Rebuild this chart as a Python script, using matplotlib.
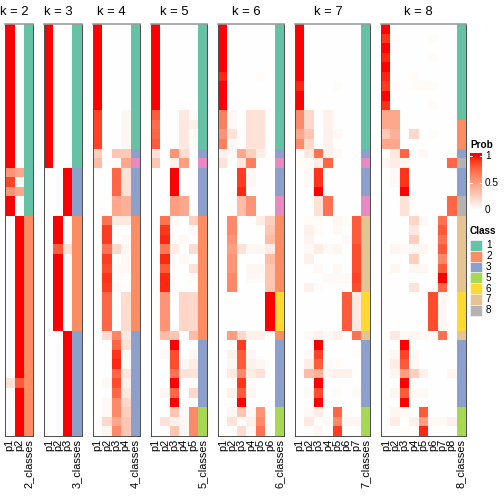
import numpy as np
import matplotlib
matplotlib.use("Agg")
import matplotlib.pyplot as plt
from matplotlib.colors import ListedColormap, to_rgb
from matplotlib.patches import Rectangle

plt.rcParams['font.family'] = ['Liberation Sans', 'DejaVu Sans']

# membership probabilities, one row per sample (43 samples), one column per class
prob_k2 = ([[1, 0]] * 15 + [[0.55, 0.45], [0.88, 0.05], [0.55, 0.45]] + [[1, 0]] * 2
           + [[0, 1]] * 17 + [[0.15, 0.8]] + [[0, 1]] * 5)
class_k2 = [1] * 20 + [2] * 23

prob_k3 = ([[1, 0, 0]] * 15 + [[0, 0, 1]] * 5 + [[0, 1, 0]] * 3 + [[0, 0.8, 0.15]]
           + [[0, 1, 0]] * 8 + [[0, 0, 1]] * 11)
class_k3 = [1] * 15 + [3] * 5 + [2] * 12 + [3] * 11

prob_k4 = ([[1, 0, 0, 0]] * 9 + [[0.88, 0, 0, 0.05]] * 4
           + [[0.25, 0, 0.3, 0.28], [0.35, 0, 0.02, 0.45]]
           + [[0, 0, 0.75, 0.15]] * 3 + [[0, 0, 0.45, 0.4]] * 2
           + [[0, 0.7, 0.12, 0.12], [0, 0.9, 0.02, 0], [0, 0.9, 0, 0.03], [0, 0.7, 0.2, 0.05],
              [0, 0.9, 0, 0.03], [0, 0.85, 0.03, 0.03], [0, 0.92, 0.02, 0], [0, 0.9, 0.03, 0]]
           + [[0, 0.75, 0, 0.18]] * 4
           + [[0, 0.18, 0.62, 0.12], [0, 0, 0.75, 0.15], [0, 0, 0.92, 0.02], [0, 0, 0.95, 0.02],
              [0, 0, 0.75, 0.12], [0, 0.03, 0.85, 0.08], [0, 0, 0.75, 0.12], [0, 0.03, 0.6, 0.2],
              [0, 0.03, 0.6, 0.25], [0, 0.2, 0.45, 0.3], [0, 0.05, 0.6, 0.3]])
class_k4 = [1] * 13 + [3, 4] + [3] * 5 + [2] * 12 + [3] * 11

prob_k5 = ([[1, 0, 0, 0, 0]] * 9
           + [[0.8, 0, 0, 0.12, 0.02], [0.72, 0, 0, 0.12, 0.08], [0.75, 0, 0, 0.12, 0.03],
              [0.8, 0, 0, 0.12, 0.02], [0.15, 0, 0.55, 0.18, 0], [0.3, 0, 0.08, 0.5, 0]]
           + [[0, 0, 1, 0, 0]] * 3 + [[0, 0, 0.5, 0.45, 0]] * 2
           + [[0, 0.7, 0.03, 0, 0.25], [0, 0.92, 0, 0, 0.03], [0, 0.95, 0, 0.03, 0],
              [0, 0.68, 0.1, 0, 0.18], [0, 0.95, 0, 0.03, 0], [0, 0.8, 0, 0, 0.15],
              [0, 0.95, 0, 0, 0.02], [0, 0.95, 0, 0, 0]]
           + [[0, 0.55, 0, 0.22, 0.2]] * 4
           + [[0, 0.35, 0.3, 0, 0.35], [0, 0, 1, 0, 0], [0, 0.03, 0.85, 0, 0.05],
              [0, 0, 0.85, 0.05, 0.1], [0, 0, 0.7, 0.15, 0.15], [0, 0, 1, 0, 0],
              [0, 0.05, 0.75, 0, 0.2], [0, 0, 1, 0, 0], [0, 0, 0.3, 0.03, 0.6],
              [0, 0.15, 0.08, 0.05, 0.6], [0, 0, 0.3, 0.05, 0.6]])
class_k5 = [1] * 13 + [3, 4] + [3] * 5 + [2] * 13 + [3] * 7 + [5] * 3

prob_k6 = ([[1, 0, 0, 0, 0, 0]] * 5 + [[0.95, 0, 0, 0, 0.02, 0]] + [[1, 0, 0, 0, 0, 0]] * 3
           + [[0.65, 0.03, 0, 0.15, 0.15, 0]] * 2
           + [[0.55, 0.15, 0, 0.15, 0.15, 0], [0.65, 0.03, 0, 0.15, 0.15, 0],
              [0.08, 0.03, 0.45, 0.25, 0.1, 0], [0.15, 0, 0.12, 0.65, 0, 0]]
           + [[0, 0, 0.9, 0.05, 0, 0]] * 2 + [[0, 0, 0.95, 0.01, 0, 0]]
           + [[0, 0, 0.35, 0.55, 0, 0]] * 2
           + [[0, 0.6, 0, 0, 0.1, 0.25], [0, 0.6, 0, 0, 0, 0.3], [0, 0.55, 0, 0, 0, 0.35],
              [0, 0.5, 0.15, 0.05, 0.05, 0.1], [0, 0.55, 0, 0, 0, 0.35],
              [0, 0.55, 0, 0.05, 0.05, 0.3], [0, 0.6, 0, 0.03, 0.03, 0.3], [0, 0.6, 0, 0, 0, 0.3]]
           + [[0, 0, 0, 0, 0, 1]] * 4
           + [[0, 0.5, 0.2, 0.08, 0.08, 0], [0, 0, 0.9, 0, 0, 0], [0, 0.08, 0.8, 0.05, 0, 0],
              [0, 0.05, 0.8, 0.08, 0.05, 0], [0, 0.12, 0.6, 0.1, 0.15, 0], [0, 0, 0.92, 0.02, 0, 0],
              [0, 0.08, 0.8, 0.05, 0, 0], [0, 0, 1, 0, 0, 0], [0, 0.05, 0.3, 0.03, 0.55, 0],
              [0, 0.15, 0, 0.08, 0.6, 0], [0, 0, 0.18, 0.03, 0.7, 0]])
class_k6 = [1] * 13 + [3, 4] + [3] * 3 + [4] * 2 + [2] * 8 + [6] * 4 + [2] + [3] * 7 + [5] * 3

prob_k7 = ([[1, 0, 0, 0, 0, 0, 0]] * 6 + [[0.95, 0, 0, 0, 0.02, 0, 0]] + [[1, 0, 0, 0, 0, 0, 0]] * 2
           + [[0.6, 0.2, 0, 0.08, 0, 0, 0]] * 2
           + [[0.45, 0.3, 0, 0.08, 0.03, 0, 0], [0.6, 0.2, 0, 0.08, 0, 0, 0],
              [0.02, 0.12, 0.7, 0.08, 0.03, 0, 0], [0.02, 0.02, 0.1, 0.75, 0, 0, 0]]
           + [[0, 0.03, 0.92, 0, 0, 0, 0]] * 2 + [[0, 0, 1, 0, 0, 0, 0]]
           + [[0, 0, 0.15, 0.7, 0, 0, 0]] * 2
           + [[0, 0.02, 0.02, 0, 0.05, 0.02, 0.8], [0, 0.08, 0.02, 0, 0.03, 0, 0.8],
              [0, 0.06, 0, 0, 0, 0.03, 0.8], [0, 0.03, 0.1, 0.03, 0.05, 0, 0.85],
              [0, 0.08, 0, 0, 0, 0, 0.85], [0, 0, 0.03, 0, 0.05, 0, 0.85],
              [0, 0, 0, 0.03, 0.03, 0.03, 0.88], [0, 0.08, 0.02, 0, 0, 0, 0.85]]
           + [[0, 0, 0, 0, 0, 0.8, 0.12]] * 4
           + [[0, 0.03, 0.08, 0.03, 0.08, 0, 0.7], [0, 0, 1, 0, 0, 0, 0],
              [0, 0.03, 0.88, 0, 0, 0, 0.02], [0, 0.1, 0.78, 0.02, 0.02, 0, 0],
              [0, 0.35, 0.4, 0.05, 0.08, 0.08, 0], [0, 0, 1, 0, 0, 0, 0],
              [0, 0.03, 0.85, 0, 0.02, 0, 0.03], [0, 0, 1, 0, 0, 0, 0],
              [0, 0.03, 0.1, 0, 0.75, 0.02, 0], [0, 0.12, 0, 0.03, 0.6, 0.05, 0.05],
              [0, 0, 0.05, 0, 0.9, 0, 0]])
class_k7 = [1] * 13 + [3, 4] + [3] * 3 + [4] * 2 + [7] * 8 + [6] * 4 + [7] + [3] * 7 + [5] * 3

prob_k8 = ([[1, 0, 0, 0, 0, 0, 0, 0], [0.92, 0.02, 0, 0, 0, 0.02, 0, 0], [1, 0, 0, 0, 0, 0, 0, 0],
            [0.95, 0, 0, 0, 0, 0.02, 0, 0], [1, 0, 0, 0, 0, 0, 0, 0], [0.95, 0, 0, 0.02, 0, 0, 0, 0],
            [0.9, 0.02, 0, 0.02, 0.02, 0.02, 0, 0], [1, 0, 0, 0, 0, 0, 0, 0],
            [0.93, 0, 0, 0, 0, 0.02, 0, 0]]
           + [[0.45, 0.45, 0, 0, 0, 0, 0, 0]] * 2
           + [[0.28, 0.4, 0, 0.2, 0, 0.02, 0, 0], [0.45, 0.45, 0, 0, 0, 0, 0, 0],
              [0, 0.12, 0.75, 0, 0.03, 0, 0, 0.02], [0.05, 0.1, 0.05, 0, 0, 0, 0, 0.75]]
           + [[0, 0.03, 0.92, 0, 0, 0, 0, 0]] * 2 + [[0, 0, 1, 0, 0, 0, 0, 0]]
           + [[0, 0, 0.15, 0, 0, 0, 0, 0.75]] * 2
           + [[0, 0, 0, 0.22, 0.03, 0, 0.7, 0], [0, 0, 0, 0.12, 0, 0, 0.8, 0],
              [0, 0, 0, 0.25, 0, 0, 0.7, 0], [0, 0.05, 0.03, 0.05, 0.05, 0, 0.8, 0],
              [0, 0, 0, 0.25, 0, 0, 0.6, 0], [0, 0.05, 0, 0.05, 0.05, 0, 0.8, 0],
              [0, 0, 0, 0, 0, 0, 1, 0], [0, 0, 0, 0.15, 0, 0, 0.75, 0]]
           + [[0, 0, 0, 0, 0, 0.85, 0.05, 0]] * 4
           + [[0, 0.12, 0.03, 0.05, 0.03, 0, 0.7, 0], [0, 0, 1, 0, 0, 0, 0, 0],
              [0, 0.05, 0.88, 0.03, 0, 0, 0, 0], [0, 0.1, 0.8, 0.03, 0, 0, 0, 0],
              [0, 0.05, 0.5, 0.25, 0.08, 0, 0, 0.05], [0, 0, 1, 0, 0, 0, 0, 0],
              [0, 0.05, 0.8, 0.03, 0.03, 0, 0, 0], [0, 0, 1, 0, 0, 0, 0, 0],
              [0, 0.05, 0.03, 0, 0.8, 0, 0, 0], [0, 0.1, 0, 0.08, 0.5, 0.03, 0.03, 0.08],
              [0, 0, 0.02, 0, 0.95, 0, 0, 0]])
class_k8 = [1] * 10 + [2] * 3 + [3, 8] + [3] * 3 + [8] * 2 + [7] * 8 + [6] * 4 + [7] + [3] * 7 + [5] * 3

ks = [2, 3, 4, 5, 6, 7, 8]
probs = [prob_k2, prob_k3, prob_k4, prob_k5, prob_k6, prob_k7, prob_k8]
classes = [class_k2, class_k3, class_k4, class_k5, class_k6, class_k7, class_k8]

class_colors = {1: '#66C2A5', 2: '#FC8D62', 3: '#8DA0CB', 4: '#E78AC3',
                5: '#A6D854', 6: '#FFD92F', 7: '#E5C494', 8: '#B3B3B3'}
legend_classes = [1, 2, 3, 5, 6, 7, 8]


# white -> red, interpolated in LAB space
M = np.array([[0.4124, 0.3576, 0.1805], [0.2126, 0.7152, 0.0722], [0.0193, 0.1192, 0.9505]])
WP = np.array([0.95047, 1.0, 1.08883])


def to_lab(rgb):
    c = np.asarray(rgb, float)
    c = np.where(c > 0.04045, ((c + 0.055) / 1.055) ** 2.4, c / 12.92)
    xyz = M @ c / WP
    f = np.where(xyz > 0.008856, np.cbrt(xyz), 7.787 * xyz + 16 / 116)
    return np.array([116 * f[1] - 16, 500 * (f[0] - f[1]), 200 * (f[1] - f[2])])


def from_lab(lab):
    L, a, b = lab
    fy = (L + 16) / 116
    f = np.array([fy + a / 500, fy, fy - b / 200])
    xyz = np.where(f ** 3 > 0.008856, f ** 3, (f - 16 / 116) / 7.787) * WP
    c = np.clip(np.linalg.inv(M) @ xyz, 0, 1)
    c = np.where(c > 0.0031308, 1.055 * c ** (1 / 2.4) - 0.055, 12.92 * c)
    return np.clip(c, 0, 1)


lw_, lr_ = to_lab([1, 1, 1]), to_lab([1, 0, 0])
cmap = ListedColormap([from_lab(lw_ + t * (lr_ - lw_)) for t in np.linspace(0, 1, 256)])

W = H = 504
fig = plt.figure(figsize=(7, 7), dpi=72)


def px_axes(x0, y0, x1, y1):
    return fig.add_axes([x0 / W, 1 - y1 / H, (x1 - x0) / W, (y1 - y0) / H])


n_rows = 43
col_w, gap = 9.4, 11
top, bottom = 24, 436
x = 5
for k, p, c in zip(ks, probs, classes):
    p = np.array(p, float)
    n = k + 1
    x1 = x + n * col_w
    ax = px_axes(x, top, x1, bottom)
    rgb = np.zeros((n_rows, n, 3))
    rgb[:, :k] = cmap(p)[..., :3]
    rgb[:, k] = [to_rgb(class_colors[v]) for v in c]
    ax.imshow(rgb, aspect='auto', interpolation='nearest', extent=(0, n, n_rows, 0))
    ax.set_xlim(0, n)
    ax.set_ylim(n_rows, 0)
    ax.set_xticks([])
    ax.set_yticks([])
    for side in ['left', 'bottom', 'right']:
        ax.spines[side].set_color('#505050')
        ax.spines[side].set_linewidth(1.0)
    ax.spines['top'].set_color('#9a9a9a')
    ax.spines['top'].set_linewidth(1.6)
    ax.text(k / 2, -0.95, f"k = {k}", ha='center', va='baseline', fontsize=13)
    labels = [f"p{i + 1}" for i in range(k)] + [f"{k}_classes"]
    for j, lab in enumerate(labels):
        ax.text(j + 0.5, n_rows + 0.3, lab, rotation=90, ha='center', va='top', fontsize=11)
    x = x1 + gap

# legends, drawn in pixel coordinates
ov = fig.add_axes([0, 0, 1, 1], zorder=-1)
ov.set_xlim(0, W)
ov.set_ylim(H, 0)
ov.axis('off')

ov.text(470, 148, "Prob", fontweight='bold', fontsize=10, va='baseline')
cb = px_axes(470, 153, 482, 213)
cb.imshow(np.linspace(1.056, -0.056, 200)[:, None], cmap=cmap, vmin=0, vmax=1,
          aspect='auto', extent=(0, 1, -0.056, 1.056))
cb.set_xlim(0, 1)
cb.set_ylim(-0.056, 1.056)
cb.axis('off')
for v in (0, 0.5, 1):
    cb.plot([0, 0.2], [v, v], color='white', lw=1)
    cb.plot([0.8, 1], [v, v], color='white', lw=1)
    ov.text(485, 156 + (1 - v) * 54, f"{v:g}", fontsize=10, va='center')

ov.text(470, 233.5, "Class", fontweight='bold', fontsize=10, va='baseline')
for i, cl in enumerate(legend_classes):
    y0 = 240 + i * 10.8
    ov.add_patch(Rectangle((470, y0), 12, 10.8, facecolor=class_colors[cl], edgecolor='white', lw=0.5))
    ov.text(486, y0 + 5.4, str(cl), fontsize=10, va='center')

fig.savefig('out.png', dpi=72)
